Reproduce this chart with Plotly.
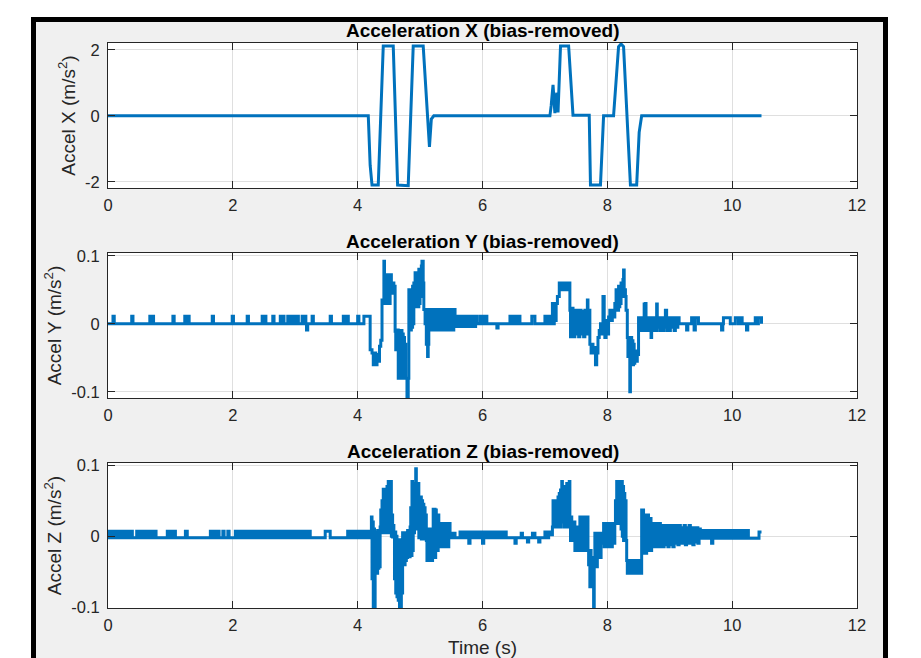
import plotly.graph_objects as go

W, H = 921, 658

# ---------------- data ----------------
titles = ["Acceleration X (bias-removed)",
          "Acceleration Y (bias-removed)",
          "Acceleration Z (bias-removed)"]
y_labels = ["Accel X (m/s<sup>2</sup>)",
            "Accel Y (m/s<sup>2</sup>)",
            "Accel Z (m/s<sup>2</sup>)"]
x_label = "Time (s)"

x_tick_vals = [0, 2, 4, 6, 8, 10, 12]
x_tick_text = ["0", "2", "4", "6", "8", "10", "12"]
yx_tick_vals = [-2, 0, 2]
yx_tick_text = ["-2", "0", "2"]
yy_tick_vals = [-0.1, 0, 0.1]
yy_tick_text = ["-0.1", "0", "0.1"]
yz_tick_vals = [-0.1, 0, 0.1]
yz_tick_text = ["-0.1", "0", "0.1"]

# Acceleration X (s, m/s^2)
time_x = [0.00, 4.17, 4.20, 4.23, 4.33, 4.37, 4.41, 4.57, 4.61, 4.64, 4.81, 4.85,
          4.89, 5.05, 5.12, 5.15, 5.18, 5.22, 7.08, 7.10, 7.13, 7.16, 7.19, 7.21,
          7.25, 7.38, 7.45, 7.71, 7.73, 7.89, 7.94, 8.10, 8.18, 8.22, 8.26, 8.32,
          8.37, 8.47, 8.51, 8.55, 10.47]
accel_x = [0.00, 0.00, -1.50, -2.10, -2.10, 0.00, 2.12, 2.12, 0.00, -2.10, -2.12, 0.00,
           2.12, 2.12, 0.00, -0.94, -0.10, 0.00, 0.00, 0.30, 0.94, 0.08, 0.70, 0.10,
           2.12, 2.12, 0.02, 0.02, -2.10, -2.10, 0.00, 0.00, 2.10, 2.18, 2.10, 0.00,
           -2.10, -2.10, -0.50, 0.00, 0.00]

# Acceleration Y samples (time s, value m/s^2)
samples_y = [
    (0.00, 0.0), (0.08, 0.011), (0.10, 0.0), (0.38, 0.011), (0.40, 0.0),
    (0.67, 0.011), (0.69, 0.0), (0.71, 0.011), (0.73, 0.0), (1.04, 0.011), (1.06, 0.0),
    (1.23, 0.011), (1.25, 0.0), (1.28, 0.011), (1.30, 0.0), (1.67, 0.011), (1.69, 0.0),
    (1.99, 0.011), (2.01, 0.0), (2.23, 0.011), (2.25, 0.0), (2.47, 0.011), (2.49, 0.0),
    (2.51, 0.011), (2.53, 0.0), (2.64, 0.011), (2.66, 0.0), (2.76, 0.011), (2.78, 0.0),
    (2.80, 0.011), (2.82, 0.0), (2.88, 0.011), (2.90, 0.0), (2.93, 0.011), (2.95, 0.0),
    (2.98, 0.011), (3.00, 0.0), (3.03, 0.011), (3.05, 0.0), (3.11, 0.011), (3.13, 0.0),
    (3.16, 0.011), (3.17, 0.0), (3.18, -0.009), (3.20, 0.0), (3.27, 0.011), (3.29, 0.0),
    (3.56, 0.011), (3.58, 0.0), (3.77, 0.011), (3.79, 0.0), (3.83, 0.011), (3.85, 0.0),
    (4.00, 0.011), (4.02, 0.0), (4.10, 0.011),
    (4.20, -0.038), (4.23, -0.043), (4.25, -0.060), (4.26, -0.043), (4.27, -0.060),
    (4.28, -0.043), (4.29, -0.060), (4.31, -0.045), (4.33, -0.055), (4.35, -0.033),
    (4.37, -0.024), (4.39, 0.035), (4.42, 0.092), (4.43, 0.030), (4.44, 0.072),
    (4.45, 0.030), (4.46, 0.070), (4.47, 0.035), (4.48, 0.072), (4.49, 0.030),
    (4.50, 0.068), (4.51, 0.030), (4.52, 0.072), (4.54, 0.045), (4.56, 0.060),
    (4.58, 0.055), (4.60, -0.011), (4.61, -0.038), (4.62, -0.009), (4.63, -0.038),
    (4.64, -0.009), (4.65, -0.080), (4.66, -0.010), (4.67, -0.080), (4.68, -0.012),
    (4.69, -0.075), (4.70, -0.010), (4.71, -0.080), (4.72, -0.015), (4.73, -0.080),
    (4.74, -0.020), (4.75, -0.078), (4.76, -0.030), (4.77, -0.080), (4.79, -0.107),
    (4.81, -0.080), (4.82, 0.050), (4.83, -0.009), (4.84, 0.050), (4.85, -0.009),
    (4.86, 0.050), (4.87, -0.005), (4.88, 0.055), (4.89, 0.000), (4.90, 0.060),
    (4.91, 0.025), (4.92, 0.075), (4.93, 0.025), (4.94, 0.075), (4.95, 0.030),
    (4.96, 0.072), (4.97, 0.025), (4.98, 0.080), (4.99, 0.030), (5.00, 0.078),
    (5.01, 0.040), (5.02, 0.085), (5.03, 0.092), (5.05, 0.060), (5.06, 0.021),
    (5.08, 0.000), (5.09, 0.021), (5.10, -0.030), (5.12, -0.048), (5.13, -0.030),
    (5.14, 0.021), (5.16, -0.009), (5.18, 0.021), (5.20, -0.009), (5.22, 0.021),
    (5.24, -0.009), (5.26, 0.021), (5.28, -0.009), (5.30, 0.021), (5.32, -0.009),
    (5.34, 0.021), (5.36, -0.009), (5.38, 0.021), (5.40, -0.009), (5.42, 0.021),
    (5.44, -0.009), (5.46, 0.021), (5.48, -0.009), (5.50, 0.021), (5.52, -0.009),
    (5.54, 0.021), (5.56, -0.004), (5.59, 0.011), (5.62, -0.004), (5.65, 0.011),
    (5.68, -0.004), (5.71, 0.011), (5.74, -0.004), (5.77, 0.011), (5.80, -0.004),
    (5.83, 0.011), (5.86, -0.004), (5.89, 0.011), (5.91, 0.0),
    (5.96, 0.011), (6.00, 0.0), (6.03, 0.011), (6.07, 0.0), (6.23, -0.006), (6.25, 0.0),
    (6.44, 0.011), (6.48, 0.0), (6.52, 0.011), (6.56, 0.0), (6.58, 0.011), (6.60, 0.0),
    (6.79, 0.011), (6.84, 0.0), (7.00, 0.011), (7.03, 0.0), (7.06, 0.011), (7.09, 0.0),
    (7.12, 0.030), (7.14, 0.000), (7.15, 0.030), (7.17, 0.005), (7.18, 0.030),
    (7.20, 0.040), (7.23, 0.060), (7.24, 0.050), (7.25, 0.060), (7.26, 0.050),
    (7.27, 0.060), (7.28, 0.050), (7.29, 0.060), (7.30, 0.050), (7.31, 0.060),
    (7.33, 0.050), (7.35, 0.060), (7.37, 0.050), (7.39, 0.060), (7.40, 0.020),
    (7.41, -0.019), (7.42, 0.023), (7.43, -0.019), (7.44, 0.023), (7.45, -0.019),
    (7.46, 0.020), (7.47, -0.019), (7.48, 0.020), (7.50, -0.015), (7.52, 0.020),
    (7.54, -0.019), (7.56, 0.020), (7.58, -0.015), (7.60, 0.018), (7.62, -0.019),
    (7.64, 0.020), (7.66, -0.015), (7.68, 0.035), (7.69, -0.010), (7.71, 0.020),
    (7.72, -0.030), (7.74, -0.043), (7.75, -0.030), (7.77, -0.043), (7.79, -0.035),
    (7.81, -0.060), (7.83, -0.043), (7.85, -0.020), (7.87, -0.010), (7.89, 0.000),
    (7.91, -0.015), (7.93, 0.040), (7.95, 0.005), (7.96, -0.020), (7.98, 0.005),
    (8.00, -0.015), (8.02, 0.010), (8.04, 0.020), (8.06, 0.005), (8.08, 0.020),
    (8.10, 0.010), (8.12, 0.030), (8.14, 0.050), (8.15, 0.020), (8.16, 0.050),
    (8.17, 0.020), (8.18, 0.055), (8.19, 0.025), (8.20, 0.055), (8.21, 0.030),
    (8.22, 0.060), (8.23, 0.040), (8.25, 0.065), (8.26, 0.079), (8.27, 0.050),
    (8.29, 0.040), (8.30, 0.020), (8.32, -0.020), (8.33, -0.048), (8.34, -0.020),
    (8.35, -0.048), (8.36, -0.100), (8.37, -0.060), (8.38, -0.020), (8.39, -0.060),
    (8.40, -0.025), (8.41, -0.060), (8.42, -0.030), (8.43, -0.058), (8.44, -0.040),
    (8.46, -0.055), (8.48, -0.045), (8.50, 0.009), (8.51, -0.010), (8.52, 0.009),
    (8.53, -0.010), (8.55, 0.009), (8.57, -0.010), (8.59, 0.029), (8.60, -0.005),
    (8.61, 0.030), (8.62, -0.010), (8.64, 0.009), (8.66, -0.010), (8.68, 0.009),
    (8.70, -0.020), (8.71, 0.009), (8.73, -0.010), (8.75, 0.009), (8.77, -0.010),
    (8.79, 0.029), (8.80, -0.005), (8.82, 0.009), (8.84, -0.010), (8.86, 0.009),
    (8.88, -0.010), (8.90, 0.009), (8.92, -0.005), (8.93, 0.020), (8.95, -0.010),
    (8.97, 0.009), (8.99, -0.010), (9.01, 0.009), (9.03, -0.005), (9.05, 0.009),
    (9.07, -0.010), (9.09, 0.009), (9.11, -0.005), (9.13, 0.009), (9.15, 0.000),
    (9.27, -0.009), (9.29, 0.0), (9.35, 0.009), (9.39, -0.009), (9.41, 0.009),
    (9.46, 0.0), (9.83, -0.009), (9.85, 0.0), (9.86, 0.009), (9.97, 0.0),
    (10.05, 0.009), (10.10, 0.0), (10.12, 0.009), (10.16, 0.0), (10.23, -0.009),
    (10.25, 0.0), (10.37, 0.009), (10.40, 0.0), (10.42, 0.009), (10.47, 0.000),
]

# Acceleration Z samples (time s, value m/s^2)
samples_z = [
    (0.00, -0.002), (0.02, 0.007), (0.04, -0.002), (0.06, 0.007), (0.08, -0.002),
    (0.10, 0.007), (0.12, -0.002), (0.14, 0.007), (0.16, -0.002), (0.18, 0.007),
    (0.21, -0.002), (0.23, 0.007), (0.25, -0.002), (0.27, 0.007), (0.30, -0.002),
    (0.32, 0.007), (0.34, -0.002), (0.36, 0.007), (0.39, -0.002),
    (0.46, 0.007), (0.48, -0.002), (0.50, 0.007), (0.52, -0.002), (0.54, 0.007),
    (0.57, -0.002), (0.59, 0.007), (0.61, -0.002), (0.63, 0.007), (0.65, -0.002),
    (0.67, 0.007), (0.70, -0.002), (0.74, 0.007), (0.77, -0.002),
    (0.95, 0.007), (0.97, -0.002), (1.00, 0.007), (1.02, -0.002), (1.06, 0.007),
    (1.08, -0.002), (1.24, 0.007), (1.27, -0.002),
    (1.64, 0.007), (1.66, -0.002), (1.70, 0.007), (1.72, -0.002), (1.76, 0.007),
    (1.78, -0.002), (1.84, 0.007), (1.86, -0.002), (1.92, 0.007), (1.94, -0.002),
    (2.04, 0.007), (2.06, -0.002), (2.10, 0.007), (2.12, -0.002), (2.16, 0.007),
    (2.18, -0.002), (2.22, 0.007), (2.24, -0.002), (2.28, 0.007), (2.30, -0.002),
    (2.34, 0.007), (2.36, -0.002), (2.40, 0.007), (2.42, -0.002), (2.46, 0.007),
    (2.48, -0.002), (2.52, 0.007), (2.54, -0.002), (2.58, 0.007), (2.60, -0.002),
    (2.64, 0.007), (2.66, -0.002), (2.70, 0.007), (2.72, -0.002), (2.76, 0.007),
    (2.78, -0.002), (2.82, 0.007), (2.84, -0.002), (2.88, 0.007), (2.90, -0.002),
    (2.93, 0.007), (2.95, -0.002), (2.98, 0.007), (3.00, -0.002), (3.04, 0.007),
    (3.06, -0.002), (3.10, 0.007), (3.12, -0.002), (3.16, 0.007), (3.18, -0.002),
    (3.22, 0.007), (3.24, -0.002), (3.48, 0.007), (3.56, -0.002),
    (3.84, 0.007), (3.86, -0.002), (3.90, 0.007), (3.92, -0.002), (3.96, 0.007),
    (3.98, -0.002), (4.02, 0.007), (4.04, -0.002), (4.06, 0.007), (4.08, -0.002),
    (4.10, 0.007), (4.12, -0.002), (4.14, 0.007), (4.16, -0.002), (4.18, 0.007),
    (4.20, -0.002), (4.22, 0.027), (4.23, -0.060), (4.24, 0.020), (4.25, -0.100),
    (4.26, 0.010), (4.27, -0.102), (4.28, 0.005), (4.29, -0.050), (4.30, 0.006),
    (4.31, -0.052), (4.32, 0.008), (4.33, -0.045), (4.34, 0.004), (4.35, -0.043),
    (4.36, 0.013), (4.37, 0.037), (4.38, 0.005), (4.39, 0.050), (4.40, 0.005),
    (4.41, 0.066), (4.42, 0.008), (4.43, 0.060), (4.44, 0.005), (4.45, 0.066),
    (4.46, 0.010), (4.47, 0.070), (4.48, 0.005), (4.49, 0.077), (4.50, 0.010),
    (4.51, 0.077), (4.52, 0.005), (4.53, 0.077), (4.54, 0.000), (4.55, 0.030),
    (4.56, -0.001), (4.57, 0.015), (4.58, 0.006), (4.59, -0.060), (4.60, 0.006),
    (4.61, -0.080), (4.62, 0.000), (4.63, -0.085), (4.64, -0.005), (4.65, -0.090),
    (4.66, -0.005), (4.67, -0.102), (4.68, -0.005), (4.69, -0.100), (4.70, -0.010),
    (4.71, -0.080), (4.72, 0.005), (4.73, -0.040), (4.74, 0.005), (4.75, -0.040),
    (4.76, 0.005), (4.77, -0.034), (4.78, 0.005), (4.79, -0.030), (4.80, 0.008),
    (4.81, -0.029), (4.82, 0.008), (4.83, -0.029), (4.84, 0.013), (4.85, 0.040),
    (4.86, -0.027), (4.87, 0.077), (4.88, -0.020), (4.89, 0.070), (4.90, 0.005),
    (4.91, 0.074), (4.92, 0.010), (4.93, 0.095), (4.94, 0.010), (4.95, 0.074),
    (4.96, 0.010), (4.97, 0.074), (4.98, -0.002), (4.99, 0.055), (5.00, -0.002),
    (5.01, 0.055), (5.02, -0.004), (5.03, 0.050), (5.04, -0.004), (5.05, 0.045),
    (5.06, -0.004), (5.07, 0.040), (5.08, 0.000), (5.09, 0.030), (5.10, -0.006),
    (5.11, -0.034), (5.12, 0.010), (5.13, -0.034), (5.14, 0.010), (5.15, -0.034),
    (5.16, 0.010), (5.17, -0.034), (5.18, 0.005), (5.19, -0.034), (5.20, 0.000),
    (5.21, 0.038), (5.22, -0.030), (5.23, 0.038), (5.24, -0.030), (5.25, 0.037),
    (5.26, -0.020), (5.27, 0.030), (5.28, -0.020), (5.29, 0.030), (5.30, -0.015),
    (5.31, 0.018), (5.32, -0.015), (5.33, 0.018), (5.34, -0.015), (5.35, 0.018),
    (5.36, -0.015), (5.37, 0.018), (5.38, -0.015), (5.39, 0.018), (5.40, -0.015),
    (5.42, 0.018), (5.44, -0.015), (5.46, 0.018), (5.48, 0.004), (5.50, -0.002),
    (5.53, 0.004), (5.56, -0.002),
    (5.64, 0.006), (5.66, -0.002), (5.68, 0.006), (5.70, -0.002), (5.72, 0.006),
    (5.74, -0.002), (5.76, 0.006), (5.78, -0.010), (5.80, -0.002), (5.82, 0.006),
    (5.84, -0.002), (5.86, 0.006), (5.88, -0.002), (5.90, 0.006), (5.92, -0.002),
    (5.94, 0.006), (5.96, -0.002), (5.98, 0.006), (6.00, -0.010), (6.02, -0.002),
    (6.04, 0.006), (6.06, -0.002), (6.08, 0.006), (6.10, -0.002), (6.12, 0.006),
    (6.14, -0.002), (6.16, 0.006), (6.18, -0.002), (6.20, 0.006), (6.22, -0.002),
    (6.24, 0.006), (6.26, -0.002), (6.28, 0.006), (6.30, -0.002), (6.32, 0.006),
    (6.34, -0.002), (6.36, 0.006), (6.38, -0.002),
    (6.52, -0.010), (6.54, -0.002), (6.62, 0.004), (6.64, -0.002), (6.72, -0.008),
    (6.74, -0.002), (6.80, 0.004), (6.84, -0.002), (6.90, -0.008), (6.92, -0.002),
    (7.00, 0.006), (7.02, -0.002), (7.06, 0.006), (7.08, 0.002),
    (7.12, 0.013), (7.13, 0.050), (7.14, 0.013), (7.15, 0.050), (7.16, 0.015),
    (7.17, 0.050), (7.18, 0.013), (7.19, 0.050), (7.20, 0.020), (7.21, 0.055),
    (7.22, 0.013), (7.23, 0.060), (7.24, 0.013), (7.25, 0.065), (7.26, 0.020),
    (7.27, 0.077), (7.28, 0.020), (7.29, 0.070), (7.30, 0.013), (7.31, 0.065),
    (7.32, 0.020), (7.33, 0.070), (7.34, 0.013), (7.35, 0.074), (7.36, 0.020),
    (7.37, 0.065), (7.38, 0.013), (7.39, 0.077), (7.40, 0.027), (7.41, -0.006),
    (7.42, 0.027), (7.43, -0.006), (7.44, 0.020), (7.45, -0.006), (7.46, 0.020),
    (7.48, -0.020), (7.49, 0.013), (7.50, -0.020), (7.51, 0.013), (7.52, -0.020),
    (7.53, 0.013), (7.54, -0.020), (7.56, 0.027), (7.57, -0.020), (7.58, 0.027),
    (7.59, -0.020), (7.60, 0.027), (7.61, -0.020), (7.62, 0.027), (7.63, -0.020),
    (7.64, 0.027), (7.65, -0.020), (7.66, 0.027), (7.67, -0.020), (7.68, 0.027),
    (7.69, -0.020), (7.70, -0.040), (7.71, -0.020), (7.72, -0.071), (7.73, -0.020),
    (7.74, -0.071), (7.75, -0.030), (7.76, -0.071), (7.77, -0.060), (7.78, -0.102),
    (7.79, -0.030), (7.80, 0.004), (7.81, -0.043), (7.82, 0.004), (7.83, -0.043),
    (7.84, 0.004), (7.85, -0.030), (7.86, 0.004), (7.88, -0.030), (7.90, 0.004),
    (7.92, -0.010), (7.94, 0.018), (7.95, -0.015), (7.96, 0.018), (7.97, -0.015),
    (7.98, 0.018), (7.99, -0.015), (8.00, 0.018), (8.01, -0.015), (8.02, 0.018),
    (8.03, -0.015), (8.04, 0.018), (8.05, -0.015), (8.06, 0.018), (8.07, -0.015),
    (8.08, 0.018), (8.09, -0.010), (8.10, 0.018), (8.11, -0.010), (8.12, 0.018),
    (8.13, 0.050), (8.14, 0.018), (8.15, 0.077), (8.16, 0.018), (8.17, 0.077),
    (8.18, 0.020), (8.19, 0.077), (8.20, 0.018), (8.21, 0.077), (8.22, 0.010),
    (8.23, 0.077), (8.24, 0.000), (8.25, 0.070), (8.26, -0.006), (8.27, 0.060),
    (8.28, -0.006), (8.29, 0.050), (8.30, -0.006), (8.31, -0.034), (8.32, -0.052),
    (8.33, -0.034), (8.34, -0.052), (8.35, -0.034), (8.36, -0.052), (8.37, -0.034),
    (8.38, -0.052), (8.39, -0.034), (8.40, -0.052), (8.41, -0.034), (8.42, -0.052),
    (8.43, -0.034), (8.44, -0.052), (8.45, -0.034), (8.46, -0.052), (8.47, -0.034),
    (8.48, -0.052), (8.49, -0.034), (8.50, -0.052), (8.51, -0.034), (8.52, -0.052),
    (8.53, -0.034), (8.54, -0.052), (8.55, 0.037), (8.56, -0.024), (8.57, 0.037),
    (8.58, -0.024), (8.59, 0.030), (8.60, -0.020), (8.61, 0.030), (8.62, -0.024),
    (8.63, 0.025), (8.64, -0.015), (8.65, 0.030), (8.66, -0.020), (8.67, 0.020),
    (8.68, -0.015), (8.69, 0.025), (8.70, -0.020), (8.71, 0.018), (8.73, -0.015),
    (8.75, 0.018), (8.77, -0.015), (8.79, 0.018), (8.81, -0.015), (8.83, 0.018),
    (8.85, -0.015), (8.87, 0.015), (8.89, -0.015), (8.91, 0.015), (8.93, -0.012),
    (8.95, 0.015), (8.97, -0.015), (8.99, 0.015), (9.01, -0.012), (9.03, 0.015),
    (9.05, -0.015), (9.07, 0.015), (9.09, -0.010), (9.11, 0.015), (9.13, -0.012),
    (9.15, 0.015), (9.17, -0.010), (9.19, 0.012), (9.21, -0.010), (9.23, 0.015),
    (9.25, -0.012), (9.27, 0.012), (9.29, -0.010), (9.31, 0.015), (9.33, -0.010),
    (9.35, 0.012), (9.37, -0.012), (9.39, 0.012), (9.41, -0.008), (9.43, 0.012),
    (9.45, -0.010), (9.47, 0.010),
    (9.49, -0.003), (9.52, 0.008), (9.55, -0.003), (9.58, 0.008), (9.61, -0.003),
    (9.64, 0.008), (9.67, -0.010), (9.69, 0.008), (9.72, -0.003), (9.75, 0.008),
    (9.78, -0.003), (9.81, 0.008), (9.84, -0.003), (9.87, 0.008), (9.90, -0.003),
    (9.93, 0.008), (9.96, -0.003), (9.99, 0.008), (10.02, -0.003), (10.05, 0.008),
    (10.08, -0.003), (10.11, 0.008), (10.14, -0.003), (10.17, 0.008), (10.20, -0.003),
    (10.23, 0.008), (10.26, -0.003), (10.43, 0.006), (10.47, 0.006),
]

time_y = [p[0] for p in samples_y]
accel_y = [p[1] for p in samples_y]
time_z = [p[0] for p in samples_z]
accel_z = [p[1] for p in samples_z]

# ---------------- layout helpers ----------------
LINE = "#0072BD"
AX = "#262626"
FONT = "Liberation Sans, Arial, Helvetica, sans-serif"

plot_left, plot_right = 108, 857
rows_px = [(43, 188), (253, 398), (463, 608)]
y_ranges = [[-2.19, 2.21], [-0.109, 0.104], [-0.101, 0.103]]
y_ticks = [(yx_tick_vals, yx_tick_text), (yy_tick_vals, yy_tick_text),
           (yz_tick_vals, yz_tick_text)]

fig = go.Figure()
series = [(time_x, accel_x, "linear"), (time_y, accel_y, "hv"), (time_z, accel_z, "hv")]
for i, (tx, vy, shape) in enumerate(series):
    suffix = "" if i == 0 else str(i + 1)
    fig.add_trace(go.Scatter(x=tx, y=vy, mode="lines",
                             line=dict(color=LINE, width=3, shape=shape),
                             xaxis="x" + suffix, yaxis="y" + suffix,
                             showlegend=False, hoverinfo="skip"))

common = dict(showline=True, linecolor=AX, linewidth=1, mirror="ticks",
              ticks="inside", ticklen=7, tickwidth=1, tickcolor=AX,
              showgrid=True, gridcolor="#DFDFDF", gridwidth=1, zeroline=False,
              automargin=False,
              tickfont=dict(family=FONT, size=16.5, color=AX))

layout = dict(width=W, height=H, margin=dict(l=0, r=0, t=0, b=0, pad=0),
              paper_bgcolor="white", plot_bgcolor="white", showlegend=False)

for i, (top, bot) in enumerate(rows_px):
    suffix = "" if i == 0 else str(i + 1)
    xa = dict(common)
    xa.update(domain=[plot_left / W, plot_right / W], range=[0, 12],
              tickvals=x_tick_vals, ticktext=x_tick_text,
              anchor="y" + suffix, ticklabelstandoff=2)
    if i == 2:
        xa["title"] = dict(text=x_label, font=dict(family=FONT, size=19, color=AX),
                           standoff=17)
    ya = dict(common)
    ya.update(domain=[1 - bot / H, 1 - top / H], range=y_ranges[i],
              tickvals=y_ticks[i][0], ticktext=y_ticks[i][1],
              anchor="x" + suffix, ticklabelstandoff=4,
              title=dict(text=y_labels[i], font=dict(family=FONT, size=19, color=AX),
                         standoff=4))
    layout["xaxis" + suffix] = xa
    layout["yaxis" + suffix] = ya

fig.update_layout(**layout)

# MATLAB-like figure frame: black border with light-gray panel, white axes
fig.add_shape(type="rect", xref="paper", yref="paper",
              x0=31 / W, x1=888 / W, y0=-0.2, y1=1 - 17 / H,
              fillcolor="black", line=dict(width=0), layer="below")
fig.add_shape(type="rect", xref="paper", yref="paper",
              x0=36 / W, x1=883 / W, y0=-0.2, y1=1 - 22 / H,
              fillcolor="#F0F0F0", line=dict(width=0), layer="below")
for top, bot in rows_px:
    fig.add_shape(type="rect", xref="paper", yref="paper",
                  x0=plot_left / W, x1=plot_right / W, y0=1 - bot / H, y1=1 - top / H,
                  fillcolor="white", line=dict(width=0), layer="below")

for i, (top, bot) in enumerate(rows_px):
    fig.add_annotation(text="<b>" + titles[i] + "</b>", xref="paper", yref="paper",
                       x=(plot_left + plot_right) / 2 / W, y=1 - (top - 12) / H,
                       xanchor="center", yanchor="middle", showarrow=False,
                       font=dict(family=FONT, size=19, color="black"))

fig.write_html("out.html", config={"displayModeBar": False},
               post_script="document.body.style.margin='0';")
